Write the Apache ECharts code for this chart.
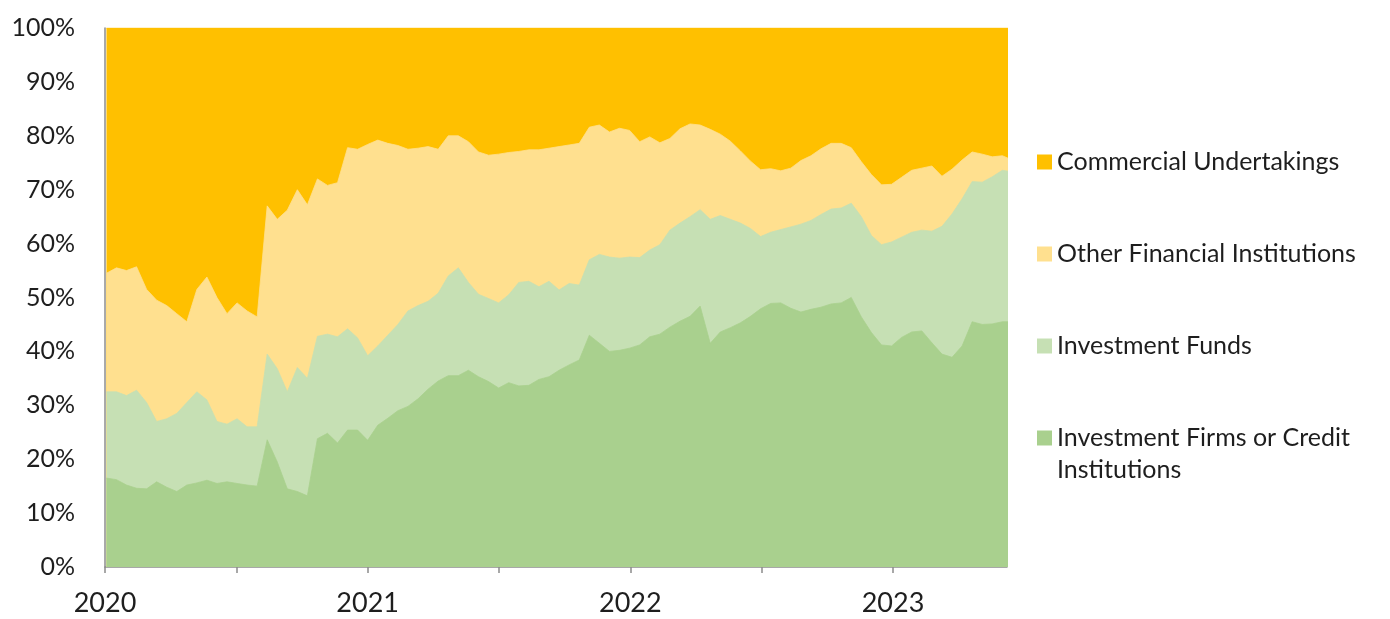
<!DOCTYPE html>
<html>
<head>
<meta charset="utf-8">
<script src="https://cdn.jsdelivr.net/npm/echarts@6/dist/echarts.min.js"></script>
<style>
  html, body { margin: 0; padding: 0; background: #ffffff; }
  #chart { width: 1390px; height: 619px; }
</style>
</head>
<body>
<div id="chart"></div>
<script>
// Fortnightly observations, first one on 3 Jan 2020
const firstObservation = '2020-01-03';
const stepDays = 14;

// Share of positions by holder type (% of total)
const investmentFirms = [
  16.5, 16.2, 15.2, 14.6, 14.5, 15.8, 14.8, 14.0, 15.2, 15.6,
  16.1, 15.5, 15.8, 15.5, 15.2, 15.0, 23.6, 19.5, 14.5, 14.0,
  13.2, 23.8, 24.8, 23.0, 25.4, 25.4, 23.5, 26.3, 27.6, 29.0,
  29.8, 31.2, 33.0, 34.5, 35.5, 35.5, 36.5, 35.3, 34.4, 33.2,
  34.2, 33.6, 33.7, 34.8, 35.3, 36.5, 37.5, 38.4, 43.0, 41.5,
  40.0, 40.2, 40.6, 41.2, 42.7, 43.2, 44.5, 45.6, 46.5, 48.4,
  41.5, 43.6, 44.4, 45.3, 46.5, 47.9, 48.9, 49.0, 48.0, 47.3,
  47.8, 48.2, 48.8, 49.0, 50.0, 46.4, 43.5, 41.2, 41.0, 42.6,
  43.6, 43.8, 41.6, 39.5, 38.9, 41.0, 45.5, 45.0, 45.1, 45.5,
  45.5
];
const investmentFunds = [
  16.0, 16.3, 16.6, 18.2, 16.0, 11.2, 12.7, 14.5, 15.3, 16.9,
  14.9, 11.5, 10.7, 12.0, 10.8, 11.0, 15.9, 17.3, 18.0, 23.0,
  21.8, 19.0, 18.4, 19.7, 18.8, 17.1, 15.7, 14.7, 15.4, 16.0,
  17.7, 17.3, 16.3, 16.3, 18.5, 20.0, 16.3, 15.3, 15.4, 15.8,
  16.3, 19.2, 19.3, 17.2, 17.7, 14.9, 15.1, 13.9, 14.0, 16.5,
  17.5, 17.1, 16.9, 16.2, 16.1, 16.6, 18.0, 18.2, 18.5, 17.9,
  23.0, 21.6, 20.1, 18.5, 16.3, 13.4, 13.2, 13.6, 15.1, 16.3,
  16.5, 17.2, 17.6, 17.6, 17.5, 18.6, 18.0, 18.6, 19.3, 18.6,
  18.5, 18.7, 20.7, 23.7, 26.6, 27.3, 26.0, 26.4, 27.3, 28.1,
  27.8
];
const otherFinancial = [
  22.0, 23.0, 23.2, 22.9, 21.0, 22.5, 21.0, 18.5, 15.0, 19.0,
  22.8, 23.0, 20.5, 21.5, 21.5, 20.4, 27.5, 27.7, 33.7, 33.0,
  32.2, 29.2, 27.6, 28.6, 33.6, 35.0, 39.2, 38.2, 35.6, 33.2,
  30.0, 29.2, 28.7, 26.7, 26.0, 24.5, 26.1, 26.4, 26.6, 27.6,
  26.4, 24.3, 24.4, 25.4, 24.7, 26.6, 25.7, 26.3, 24.6, 24.0,
  23.2, 24.1, 23.5, 21.5, 21.0, 18.9, 17.0, 17.5, 17.2, 15.7,
  16.7, 15.1, 14.5, 13.4, 12.5, 12.4, 11.8, 10.9, 10.9, 11.8,
  12.0, 12.2, 12.2, 12.0, 10.3, 10.2, 11.3, 11.1, 10.7, 11.1,
  11.5, 11.5, 12.1, 9.3, 8.3, 7.2, 5.5, 5.2, 3.7, 2.7,
  2.2
];
const commercialUndertakings = [
  45.5, 44.5, 45.0, 44.3, 48.5, 50.5, 51.5, 53.0, 54.5, 48.5,
  46.2, 50.0, 53.0, 51.0, 52.5, 53.6, 33.0, 35.5, 33.8, 30.0,
  32.8, 28.0, 29.2, 28.7, 22.2, 22.5, 21.6, 20.8, 21.4, 21.8,
  22.5, 22.3, 22.0, 22.5, 20.0, 20.0, 21.1, 23.0, 23.6, 23.4,
  23.1, 22.9, 22.6, 22.6, 22.3, 22.0, 21.7, 21.4, 18.4, 18.0,
  19.3, 18.6, 19.0, 21.1, 20.2, 21.3, 20.5, 18.7, 17.8, 18.0,
  18.8, 19.7, 21.0, 22.8, 24.7, 26.3, 26.1, 26.5, 26.0, 24.6,
  23.7, 22.4, 21.4, 21.4, 22.2, 24.8, 27.2, 29.1, 29.0, 27.7,
  26.4, 26.0, 25.6, 27.5, 26.2, 24.5, 23.0, 23.4, 23.9, 23.7,
  24.5
];

// Stacking order, bottom layer first
const seriesNames = [
  'Investment Firms or Credit Institutions',
  'Investment Funds',
  'Other Financial Institutions',
  'Commercial Undertakings'
];
const legendLines = {
  'Commercial Undertakings': ['Commercial Undertakings'],
  'Other Financial Institutions': ['Other Financial Institutions'],
  'Investment Funds': ['Investment Funds'],
  'Investment Firms or Credit Institutions': ['Investment Firms or Credit', 'Institutions']
};
const colors = ['#a9d08e', '#c6e0b4', '#ffe08f', '#ffc000'];
const axisStart = 2020;
const axisEnd = 2023.434; // early June 2023

// Observation dates as fractional years for the value axis
function toYearFraction(d) {
  const y = d.getUTCFullYear();
  const start = Date.UTC(y, 0, 1);
  const end = Date.UTC(y + 1, 0, 1);
  return y + (d.getTime() - start) / (end - start);
}
const t0 = new Date(firstObservation + 'T00:00:00Z').getTime();
const yearPos = investmentFirms.map((_, i) =>
  toYearFraction(new Date(t0 + i * stepDays * 86400000)));

// Running totals: each layer is filled from the axis up to its cumulative share,
// upper layers painted first so the lower ones sit on top of them.
const shareSets = [investmentFirms, investmentFunds, otherFinancial, commercialUndertakings];
const cumulative = shareSets.map((_, k) =>
  yearPos.map((_, i) => {
    let s = 0;
    for (let j = 0; j <= k; j++) s += shareSets[j][i];
    return +s.toFixed(2);
  }));

const fontFamily = 'Lato, "Open Sans", sans-serif';

const chart = echarts.init(document.getElementById('chart'), null, { renderer: 'canvas' });
chart.setOption({
  animation: false,
  backgroundColor: '#ffffff',
  grid: { left: 105, top: 28, right: 383, bottom: 52, containLabel: false },
  legend: {
    orient: 'vertical',
    left: 1037,
    top: 114,
    padding: 0,
    itemWidth: 15,
    itemHeight: 15,
    itemGap: -4,
    icon: 'rect',
    selectedMode: false,
    data: ['Commercial Undertakings', 'Other Financial Institutions', 'Investment Funds',
           'Investment Firms or Credit Institutions'],
    formatter: name => {
      const lines = legendLines[name].slice();
      while (lines.length < 2) lines.push('');
      return '\n' + lines.join('\n');
    },
    textStyle: { fontFamily, fontSize: 25, color: '#1e1e1e', lineHeight: 32 }
  },
  xAxis: {
    type: 'value',
    min: axisStart,
    max: axisEnd,
    interval: 0.5,
    axisLine: { show: true, lineStyle: { color: '#8c8c8c', width: 1.5 } },
    axisTick: { show: true, length: 6, lineStyle: { color: '#8c8c8c', width: 1.5 } },
    splitLine: { show: false },
    axisLabel: {
      margin: 23,
      fontFamily, fontSize: 27, color: '#1e1e1e',
      showMaxLabel: false,
      formatter: v => Number.isInteger(v) ? String(v) : ''
    }
  },
  yAxis: {
    type: 'value',
    min: 0,
    max: 100,
    interval: 10,
    axisLine: { show: true, lineStyle: { color: '#8c8c8c', width: 1.5 } },
    axisTick: { show: false },
    splitLine: { show: false },
    axisLabel: {
      margin: 30,
      fontFamily, fontSize: 25, color: '#1e1e1e',
      formatter: '{value}%'
    }
  },
  series: seriesNames.map((name, k) => ({
    name,
    type: 'line',
    symbol: 'none',
    showSymbol: false,
    smooth: false,
    color: colors[k],
    lineStyle: { width: 0.8, color: colors[k] },
    areaStyle: { color: colors[k], opacity: 1, origin: 'start' },
    z: 10 - k,
    data: cumulative[k].map((v, i) => [yearPos[i], v])
  }))
});
</script>
</body>
</html>
